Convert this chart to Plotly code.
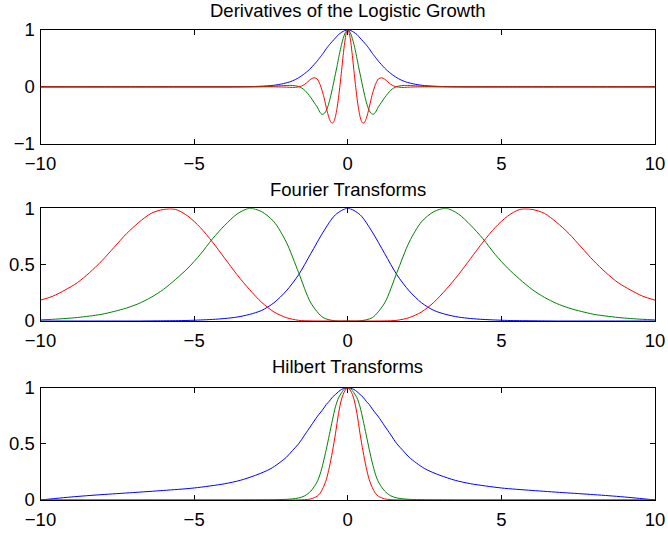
import plotly.graph_objects as go

# ---------------- data ----------------
# Panel 1: Derivatives of the Logistic Growth
x_deriv = [-10.0, -7.5, -5.0, -4.0, -3.5, -3.0, -2.5, -2.2, -2.0, -1.9, -1.8, -1.7, -1.6, -1.5,
           -1.4, -1.3, -1.2, -1.1, -1.0, -0.95, -0.9, -0.85, -0.8, -0.75, -0.7, -0.65, -0.6,
           -0.55, -0.5, -0.45, -0.4, -0.35, -0.3, -0.25, -0.2, -0.15, -0.1, -0.05, 0.0,
           0.05, 0.1, 0.15, 0.2, 0.25, 0.3, 0.35, 0.4, 0.45, 0.5, 0.55, 0.6, 0.65, 0.7, 0.75,
           0.8, 0.85, 0.9, 0.95, 1.0, 1.1, 1.2, 1.3, 1.4, 1.5, 1.6, 1.7, 1.8, 1.9, 2.0, 2.2,
           2.5, 3.0, 3.5, 4.0, 5.0, 7.5, 10.0]
deriv_blue = [0, 0, 0, 0, 0.002, 0.007, 0.022, 0.045, 0.07, 0.085, 0.105, 0.13, 0.16, 0.195,
              0.235, 0.28, 0.33, 0.39, 0.45, 0.485, 0.52, 0.555, 0.59, 0.63, 0.67, 0.705, 0.74,
              0.77, 0.80, 0.83, 0.86, 0.89, 0.92, 0.94, 0.96, 0.975, 0.99, 0.997, 1.0,
              0.997, 0.99, 0.975, 0.96, 0.94, 0.92, 0.89, 0.86, 0.83, 0.80, 0.77, 0.74, 0.705,
              0.67, 0.63, 0.59, 0.555, 0.52, 0.485, 0.45, 0.39, 0.33, 0.28, 0.235, 0.195, 0.16,
              0.13, 0.105, 0.085, 0.07, 0.045, 0.022, 0.007, 0.002, 0, 0, 0, 0]
deriv_green = [0, 0, 0, 0, 0.001, 0.003, 0.01, 0.018, 0.024, 0.025, 0.024, 0.018, 0.005, -0.02,
               -0.06, -0.12, -0.19, -0.27, -0.35, -0.40, -0.45, -0.48, -0.48, -0.46, -0.42,
               -0.35, -0.26, -0.15, -0.03, 0.10, 0.23, 0.36, 0.50, 0.63, 0.75, 0.85, 0.93, 0.98,
               1.0,
               0.98, 0.93, 0.85, 0.75, 0.63, 0.50, 0.36, 0.23, 0.10, -0.03, -0.15, -0.26, -0.35,
               -0.42, -0.46, -0.48, -0.48, -0.45, -0.40, -0.35, -0.27, -0.19, -0.12, -0.06, -0.02,
               0.005, 0.018, 0.024, 0.025, 0.024, 0.018, 0.01, 0.003, 0.001, 0, 0, 0, 0]
deriv_red = [0, 0, 0, 0, 0, 0, 0, -0.002, -0.005, -0.008, -0.01, -0.008, 0.0, 0.015, 0.045,
             0.09, 0.135, 0.16, 0.14, 0.10, 0.04, -0.04, -0.13, -0.24, -0.36, -0.47, -0.56,
             -0.62, -0.64, -0.61, -0.52, -0.38, -0.19, 0.04, 0.29, 0.55, 0.78, 0.94,
             1.0,
             0.94, 0.78, 0.55, 0.29, 0.04, -0.19, -0.38, -0.52, -0.61, -0.64, -0.62, -0.56,
             -0.47, -0.36, -0.24, -0.13, -0.04, 0.04, 0.10, 0.14, 0.16, 0.135, 0.09, 0.045,
             0.015, 0.0, -0.008, -0.01, -0.008, -0.005, -0.002, 0, 0, 0, 0, 0, 0, 0]

# Panel 2: Fourier Transforms
x_fourier = [-10.0, -9.6, -9.2, -8.8, -8.4, -8.0, -7.6, -7.2, -6.8, -6.4, -6.0, -5.6, -5.2,
             -4.8, -4.4, -4.0, -3.6, -3.2, -2.8, -2.4, -2.0, -1.6, -1.2, -0.8, -0.4, 0.0,
             0.4, 0.8, 1.2, 1.6, 2.0, 2.4, 2.8, 3.2, 3.6, 4.0, 4.4, 4.8, 5.2, 5.6, 6.0,
             6.4, 6.8, 7.2, 7.6, 8.0, 8.4, 8.8, 9.2, 9.6, 10.0]
fourier_blue = [0, 0, 0, 0, 0, 0, 0, 0, 0, 0.001, 0.002, 0.003, 0.005, 0.009, 0.014, 0.022,
                0.035, 0.058, 0.094, 0.162, 0.267, 0.41, 0.599, 0.789, 0.943, 1.0,
                0.943, 0.789, 0.599, 0.41, 0.267, 0.162, 0.094, 0.058, 0.035, 0.022, 0.014,
                0.009, 0.005, 0.003, 0.002, 0.001, 0, 0, 0, 0, 0, 0, 0, 0, 0]
fourier_green = [0.01, 0.015, 0.022, 0.031, 0.044, 0.06, 0.085, 0.115, 0.155, 0.21, 0.28, 0.37,
                 0.47, 0.59, 0.73, 0.85, 0.95, 1.0, 0.97, 0.88, 0.70, 0.43, 0.16, 0.03, 0.001,
                 0.0,
                 0.001, 0.03, 0.16, 0.43, 0.70, 0.88, 0.97, 1.0, 0.95, 0.85, 0.73, 0.59, 0.47,
                 0.37, 0.28, 0.21, 0.155, 0.115, 0.085, 0.06, 0.044, 0.031, 0.022, 0.015, 0.01]
fourier_red = [0.185, 0.22, 0.275, 0.34, 0.43, 0.535, 0.655, 0.775, 0.875, 0.955, 0.99, 0.99,
               0.93, 0.83, 0.70, 0.555, 0.41, 0.28, 0.165, 0.08, 0.03, 0.006, 0.001, 0, 0,
               0.0,
               0, 0, 0.001, 0.006, 0.03, 0.08, 0.165, 0.28, 0.41, 0.555, 0.70, 0.83, 0.93,
               0.99, 0.99, 0.955, 0.875, 0.775, 0.655, 0.535, 0.43, 0.34, 0.275, 0.22, 0.185]

# Panel 3: Hilbert Transforms
x_hilbert = [-10.0, -9.5, -9.0, -8.5, -8.0, -7.0, -6.0, -5.0, -4.0, -3.5, -3.0, -2.5, -2.0,
             -1.8, -1.6, -1.4, -1.2, -1.0, -0.9, -0.8, -0.7, -0.6, -0.5, -0.4, -0.3, -0.2,
             -0.1, 0.0, 0.1, 0.2, 0.3, 0.4, 0.5, 0.6, 0.7, 0.8, 0.9, 1.0, 1.2, 1.4, 1.6, 1.8,
             2.0, 2.5, 3.0, 3.5, 4.0, 5.0, 6.0, 7.0, 8.0, 8.5, 9.0, 9.5, 10.0]
hilbert_blue = [0, 0.014, 0.027, 0.038, 0.048, 0.066, 0.085, 0.107, 0.145, 0.175, 0.22, 0.28,
                0.38, 0.44, 0.50, 0.58, 0.66, 0.74, 0.775, 0.81, 0.85, 0.88, 0.915, 0.94,
                0.965, 0.985, 0.995, 1.0,
                0.995, 0.985, 0.965, 0.94, 0.915, 0.88, 0.85, 0.81, 0.775, 0.74, 0.66, 0.58,
                0.50, 0.44, 0.38, 0.28, 0.22, 0.175, 0.145, 0.107, 0.085, 0.066, 0.048, 0.038,
                0.027, 0.014, 0]
hilbert_green = [0, 0, 0, 0, 0, 0, 0, 0, 0, 0, 0.001, 0.002, 0.006, 0.01, 0.018, 0.037, 0.08,
                 0.16, 0.23, 0.33, 0.45, 0.58, 0.71, 0.83, 0.91, 0.955, 0.99, 1.0,
                 0.99, 0.955, 0.91, 0.83, 0.71, 0.58, 0.45, 0.33, 0.23, 0.16, 0.08, 0.037,
                 0.018, 0.01, 0.006, 0.002, 0.001, 0, 0, 0, 0, 0, 0, 0, 0, 0, 0]
hilbert_red = [0, 0, 0, 0, 0, 0, 0, 0, 0, 0, 0, 0, 0, 0, 0.001, 0.003, 0.01, 0.033, 0.06, 0.11,
               0.18, 0.29, 0.43, 0.59, 0.77, 0.90, 0.97, 1.0,
               0.97, 0.90, 0.77, 0.59, 0.43, 0.29, 0.18, 0.11, 0.06, 0.033, 0.01, 0.003,
               0.001, 0, 0, 0, 0, 0, 0, 0, 0, 0, 0, 0, 0, 0, 0]

titles = ["Derivatives of the Logistic Growth", "Fourier Transforms", "Hilbert Transforms"]
x_ticks = [-10, -5, 0, 5, 10]
y_ticks = [[-1, 0, 1], [0, 0.5, 1], [0, 0.5, 1]]
y_ranges = [[-1, 1], [0, 1], [0, 1]]

# ---------------- figure ----------------
W, H = 668, 535
COLORS = ["#0000ff", "#008000", "#ff0000"]
FONT = "Liberation Sans, Arial, Helvetica, sans-serif"
FS = 18.5

panels = [
    (x_deriv, [deriv_blue, deriv_green, deriv_red]),
    (x_fourier, [fourier_blue, fourier_green, fourier_red]),
    (x_hilbert, [hilbert_blue, hilbert_green, hilbert_red]),
]

fig = go.Figure()
for i, (xs, series) in enumerate(panels):
    sfx = "" if i == 0 else str(i + 1)
    for ys, col in zip(series, COLORS):
        fig.add_trace(go.Scatter(
            x=xs, y=ys, mode="lines",
            line=dict(color=col, width=1, shape="spline", smoothing=0.8),
            xaxis="x" + sfx, yaxis="y" + sfx,
            cliponaxis=False, showlegend=False, hoverinfo="skip"))

left_px, right_px = 40.5, 655.0
tops = [30.0, 208.3, 387.7]
bottoms = [143.7, 321.0, 500.0]
title_y = [10.0, 189.0, 366.0]

common = dict(showline=True, linecolor="black", linewidth=1, mirror="ticks",
              ticks="inside", ticklen=5, tickwidth=1, tickcolor="black",
              showgrid=False, zeroline=False, layer="below traces", automargin=False,
              tickfont=dict(family=FONT, size=FS, color="black"))

layout = dict(width=W, height=H, margin=dict(l=0, r=0, t=0, b=0, pad=0),
              paper_bgcolor="white", plot_bgcolor="white", showlegend=False,
              annotations=[])
for i in range(3):
    sfx = "" if i == 0 else str(i + 1)
    layout["xaxis" + sfx] = dict(
        common, domain=[left_px / W, right_px / W], range=[-10, 10],
        tickmode="array", tickvals=x_ticks, anchor="y" + sfx, ticklabelstandoff=3)
    layout["yaxis" + sfx] = dict(
        common, domain=[1 - bottoms[i] / H, 1 - tops[i] / H], range=y_ranges[i],
        tickmode="array", tickvals=y_ticks[i], anchor="x" + sfx, ticklabelstandoff=1)
    layout["annotations"].append(dict(
        text=titles[i], xref="paper", yref="paper",
        x=(left_px + right_px) / 2 / W, y=1 - title_y[i] / H,
        xanchor="center", yanchor="middle", showarrow=False,
        font=dict(family=FONT, size=FS, color="black")))

fig.update_layout(**layout)
fig.write_html("out.html", config={"displayModeBar": False, "staticPlot": True},
               post_script="document.body.style.margin='0';document.body.style.overflow='hidden';")
